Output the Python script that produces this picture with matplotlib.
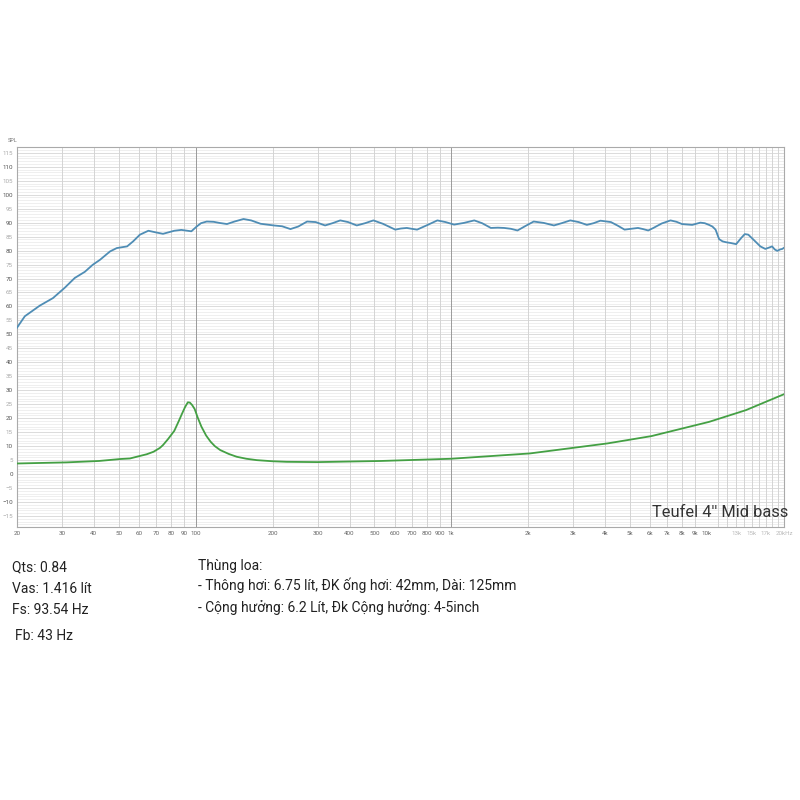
import matplotlib.pyplot as plt
import numpy as np

# SPL response (blue)
spl_freq = [20, 21.5, 24.6, 27.7, 30.8, 33.7, 36.9, 39.6, 42.3, 46.3, 49.2, 54, 57, 60.6,
            65.4, 70, 74.6, 82.6, 88, 96.3, 101, 105, 110.6, 117.6, 124, 132.7, 142, 154,
            165, 179.6, 202, 218, 235, 252, 273, 295, 321, 343, 368, 395, 427, 460, 496,
            540, 604, 635, 670, 700, 735, 800, 882, 950, 1026, 1120, 1230, 1320, 1428,
            1520, 1610, 1710, 1815, 1950, 2100, 2300, 2520, 2700, 2920, 3150, 3390, 3600,
            3830, 4210, 4480, 4760, 5050, 5370, 5620, 5890, 6170, 6650, 7200, 7600, 7980,
            8750, 9420, 9800, 10180, 10500, 10800, 11150, 11500, 11850, 12400, 13000,
            13600, 14050, 14500, 15200, 16160, 16900, 17400, 17970, 18400, 18830, 19300,
            19700, 20000]
spl_db = [52.3, 56.5, 60.3, 63, 66.7, 70.2, 72.4, 74.9, 76.7, 79.7, 80.9, 81.5, 83.3, 85.7,
          87.1, 86.5, 86.0, 87.1, 87.4, 86.9, 88.6, 89.8, 90.4, 90.3, 89.9, 89.5, 90.4, 91.3,
          90.8, 89.6, 89.0, 88.7, 87.7, 88.6, 90.4, 90.2, 89.0, 89.8, 90.8, 90.2, 89.0, 89.8,
          90.8, 89.6, 87.5, 87.9, 88.1, 87.8, 87.5, 89.0, 90.8, 90.2, 89.3, 89.9, 90.8, 89.8,
          88.1, 88.2, 88.1, 87.8, 87.2, 88.8, 90.4, 89.9, 89.0, 89.8, 90.8, 90.2, 89.2, 89.8,
          90.7, 90.2, 88.9, 87.5, 87.8, 88.1, 87.7, 87.2, 88.1, 89.7, 90.8, 90.3, 89.5,
          89.2, 90.0, 89.8, 89.2, 88.6, 87.5, 84.1, 83.3, 83.0, 82.7, 82.3,
          84.5, 85.9, 85.7, 83.9, 81.5, 80.6, 81.0, 81.5, 80.4, 79.9, 80.4,
          80.6, 81.0]

# impedance (green)
imp_freq = [20, 31.3, 41.9, 50.7, 55.4, 60.6, 64.4, 68.5, 72.6, 74.6, 78, 82.6, 86, 88.6,
            91, 93.3, 95, 97, 99.2, 102, 105.4, 110, 114.5, 119, 124.9, 135, 145, 158,
            173.6, 200, 227, 300, 530, 1000, 2030, 4090, 6060, 10190, 14200, 20000]
imp_ohm = [3.8, 4.2, 4.7, 5.4, 5.6, 6.5, 7.1, 8.0, 9.4, 10.4, 12.5, 15.5, 19, 21.7, 24.0,
           25.7, 25.6, 24.7, 23.3, 20.2, 17.0, 13.8, 11.6, 10.0, 8.6, 7.2, 6.2, 5.5, 5.0,
           4.6, 4.4, 4.3, 4.7, 5.5, 7.4, 11.0, 13.6, 18.7, 22.9, 28.6]

x_ticks = [20, 30, 40, 50, 60, 70, 80, 90, 100, 200, 300, 400, 500, 600, 700, 800, 900,
           1000, 2000, 3000, 4000, 5000, 6000, 7000, 8000, 9000, 10000, 13000, 15000,
           17000, 20000]
x_labels = ['20', '30', '40', '50', '60', '70', '80', '90', '100', '200', '300', '400',
            '500', '600', '700', '800', '900', '1k', '2k', '3k', '4k', '5k', '6k', '7k',
            '8k', '9k', '10k', '13k', '15k', '17k', '20kHz']

left_notes = ['Qts: 0.84', 'Vas: 1.416 lít', 'Fs: 93.54 Hz', 'Fb: 43 Hz']
box_notes = ['Thùng loa:',
             '- Thông hơi: 6.75 lít, ĐK ống hơi: 42mm, Dài: 125mm',
             '- Cộng hưởng: 6.2 Lít, Đk Cộng hưởng: 4-5inch']

plt.rcParams['font.family'] = ['Roboto', 'DejaVu Sans']

fig = plt.figure(figsize=(8, 8), dpi=100)
ax = fig.add_axes([0.021, 0.341, 0.959, 0.475])
ax.set_xscale('log')
ax.set_xlim(20, 20000)
ax.set_ylim(-19, 117)

# grid
for v in range(-19, 118):
    c = '#d6d6d6' if v % 5 == 0 else '#ececec'
    ax.axhline(v, color=c, lw=0.6, zorder=0)
vlines = []
for dec in [10, 100, 1000]:
    for m in range(1, 10):
        vlines.append(dec * m)
vlines += list(range(11000, 20000, 1000))
for f in vlines:
    if f < 20 or f > 20000:
        continue
    c = '#9a9a9a' if f in (100, 1000, 10000) else '#d4d4d4'
    ax.axvline(f, color=c, lw=0.7, zorder=0)

ax.plot(spl_freq, spl_db, color='#4f8db5', lw=1.3, zorder=3)
ax.plot(imp_freq, imp_ohm, color='#44a044', lw=1.3, zorder=3)

ax.set_xticks(x_ticks)
ax.set_xticklabels(x_labels)
ax.minorticks_off()
ax.set_yticks(range(-15, 116, 5))
ax.tick_params(length=0, labelsize=4.5, pad=3)
for lab, f in zip(ax.get_xticklabels(), x_ticks):
    lab.set_color('#bbbbbb' if f > 10000 else '#666666')
for lab, v in zip(ax.get_yticklabels(), range(-15, 116, 5)):
    lab.set_color('#555555' if v % 10 == 0 else '#aaaaaa')
for s in ax.spines.values():
    s.set_color('#aaaaaa')
    s.set_linewidth(0.8)

fig.text(0.01, 0.822, 'SPL', fontsize=4, color='#777777')

ax.text(1.005, 0.02, "Teufel 4'' Mid bass", transform=ax.transAxes,
        ha='right', va='bottom', fontsize=11.8, color='#333333')

ys = [0.291, 0.264, 0.237, 0.205]
for i, t in enumerate(left_notes):
    fig.text(0.015 if i < 3 else 0.019, ys[i], t, fontsize=10, color='#222222',
             va='center')
for t, y in zip(box_notes, [0.293, 0.268, 0.241]):
    fig.text(0.247, y, t, fontsize=10, color='#222222', va='center')

fig.savefig('out.png', dpi=100, facecolor='white')
